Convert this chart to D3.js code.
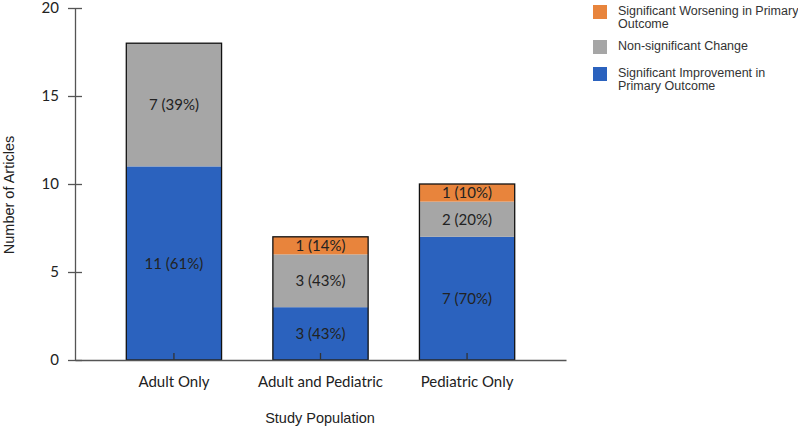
<!DOCTYPE html>
<html>
<head>
<meta charset="utf-8">
<script src="https://cdn.jsdelivr.net/npm/d3@7"></script>
<style>
  body { margin: 0; background: #fff; }
  text { font-family: "Liberation Sans", Arial, sans-serif; }
</style>
</head>
<body>
<script>
// stacked bars: study population vs outcome
var categories = ["Adult Only", "Adult and Pediatric", "Pediatric Only"];
var improved = [11, 3, 7];
var nonsig = [7, 3, 2];
var worsened = [0, 1, 1];
var improvedLbl = ["11 (61%)", "3 (43%)", "7 (70%)"];
var nonsigLbl = ["7 (39%)", "3 (43%)", "2 (20%)"];
var worsenedLbl = ["", "1 (14%)", "1 (10%)"];
var yTicks = [0, 5, 10, 15, 20];
var legendNames = ["Significant Worsening in Primary|Outcome", "Non-significant Change", "Significant Improvement in|Primary Outcome"];

var colors = {improved: "#2b62be", nonsig: "#a6a6a6", worsened: "#e8843c"};

var W = 798, H = 431;
var svg = d3.select("body").append("svg").attr("width", W).attr("height", H);

var x = d3.scaleBand().domain(categories).range([75, 566]).paddingInner(0.35).paddingOuter(0.35);
var y = d3.scaleLinear().domain([0, 20]).range([360, 8]);

var rows = categories.map(function(c, i){
  return {cat: c, improved: improved[i], nonsig: nonsig[i], worsened: worsened[i]};
});
var keys = ["improved", "nonsig", "worsened"];
var labels = {improved: improvedLbl, nonsig: nonsigLbl, worsened: worsenedLbl};
var stack = d3.stack().keys(keys)(rows);

// segments
stack.forEach(function(layer){
  svg.append("g").selectAll("rect").data(layer).enter().append("rect")
    .attr("x", function(d){ return x(d.data.cat); })
    .attr("width", x.bandwidth())
    .attr("y", function(d){ return y(d[1]); })
    .attr("height", function(d){ return y(d[0]) - y(d[1]); })
    .attr("fill", colors[layer.key]);

  svg.append("g").selectAll("text").data(layer).enter().append("text")
    .filter(function(d){ return d[1] > d[0]; })
    .attr("x", function(d){ return x(d.data.cat) + x.bandwidth()/2; })
    .attr("y", function(d){ return (y(d[0]) + y(d[1]))/2; })
    .attr("dy", "0.36em")
    .attr("text-anchor", "middle")
    .style("font-family", "Lato, sans-serif")
    .style("font-size", "15px")
    .attr("fill", "#222")
    .text(function(d){ return labels[layer.key][categories.indexOf(d.data.cat)]; });
});

// outline of whole bars
svg.append("g").selectAll("rect").data(rows).enter().append("rect")
  .attr("x", function(d){ return x(d.cat); })
  .attr("width", x.bandwidth())
  .attr("y", function(d){ return y(d.improved + d.nonsig + d.worsened); })
  .attr("height", function(d){ return y(0) - y(d.improved + d.nonsig + d.worsened); })
  .attr("fill", "none")
  .attr("stroke", "#111")
  .attr("stroke-width", 1.3);

// y axis
var yAxis = svg.append("g").attr("transform", "translate(75,0)")
  .call(d3.axisLeft(y).tickValues(yTicks).tickSize(7).tickSizeOuter(0));
yAxis.select(".domain").attr("stroke", "#555").attr("stroke-width", 1.3);
yAxis.selectAll(".tick line").attr("x2", 7).attr("x1", -7).attr("stroke", "#555").attr("stroke-width", 1.3);
yAxis.selectAll(".tick text").attr("x", -16).style("font-size", "15px").attr("fill", "#222")
  .style("font-family", "Lato, sans-serif");

// x axis
var xAxis = svg.append("g").attr("transform", "translate(0,360)")
  .call(d3.axisBottom(x).tickSize(0).tickSizeOuter(0));
xAxis.select(".domain").attr("stroke", "#555").attr("stroke-width", 1.3);
xAxis.selectAll(".tick line").attr("y1", 0).attr("y2", -7).attr("stroke", "#333").attr("stroke-width", 1.3);
xAxis.selectAll(".tick text").attr("y", 16).style("font-size", "15px").attr("fill", "#222")
  .style("font-family", "Lato, sans-serif");

// axis titles
svg.append("text").attr("x", 320).attr("y", 423).attr("text-anchor", "middle")
  .style("font-size", "14.5px").attr("fill", "#222").text("Study Population");
svg.append("text").attr("transform", "translate(14,195) rotate(-90)").attr("text-anchor", "middle")
  .style("font-size", "14.5px").attr("fill", "#222").text("Number of Articles");

// legend
var legendColors = [colors.worsened, colors.nonsig, colors.improved];
var legendY = [5, 40, 67];
var lg = svg.append("g").selectAll("g").data(legendNames).enter().append("g")
  .attr("transform", function(d, i){ return "translate(593," + legendY[i] + ")"; });
lg.append("rect").attr("width", 14).attr("height", 14)
  .attr("fill", function(d, i){ return legendColors[i]; });
lg.append("text").attr("x", 25).attr("y", 10)
  .style("font-size", "12.5px").attr("fill", "#333")
  .selectAll("tspan").data(function(d){ return d.split("|"); }).enter().append("tspan")
  .attr("x", 25).attr("dy", function(d, i){ return i ? "1.0em" : 0; })
  .text(function(d){ return d; });
</script>
</body>
</html>
